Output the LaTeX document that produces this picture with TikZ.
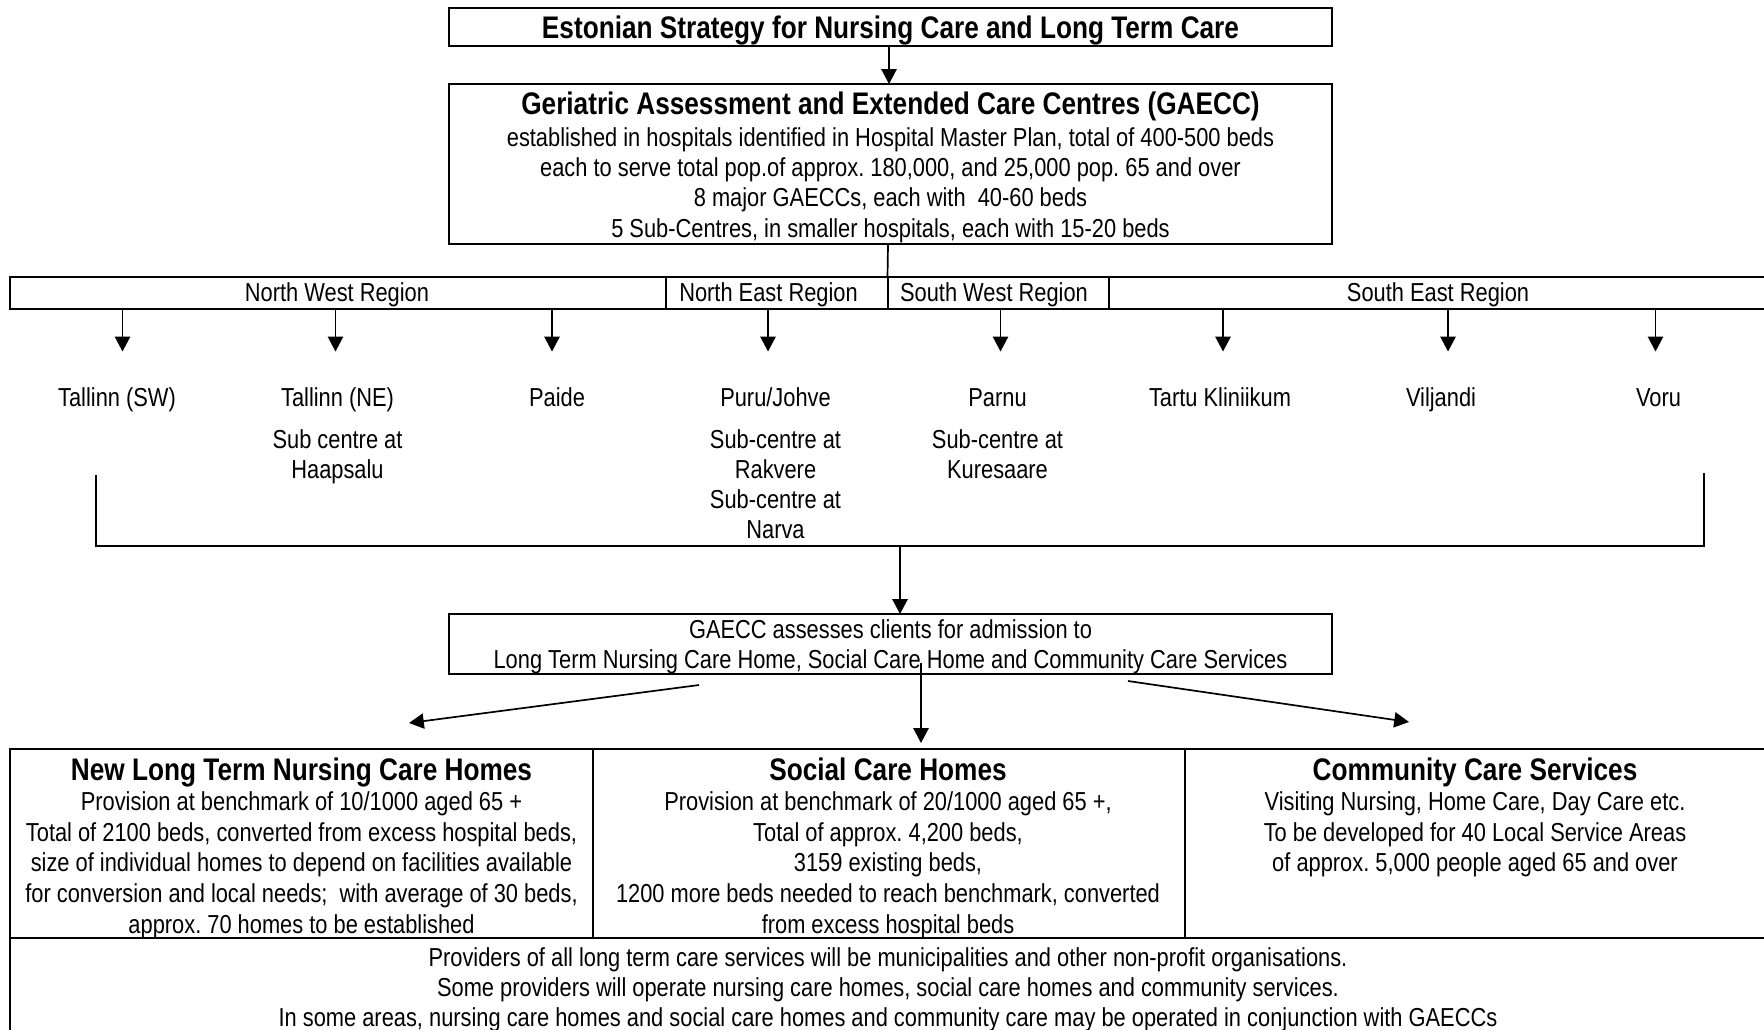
\documentclass[tikz,border=0pt]{standalone}
\usepackage{fontspec}
\setmainfont{Liberation Sans}[FakeStretch=0.84]
\usetikzlibrary{arrows.meta}
\frenchspacing

\begin{document}
\begin{tikzpicture}[x=0.5pt, y=-0.5pt,
  frame/.style={draw, line width=1pt, inner sep=0pt, outer sep=0pt},
  % multi-line texts are placed by the baseline of their last line
  txt/.style={inner sep=0pt, outer sep=0pt, align=center, anchor=base,
              font=\fontsize{13}{15.1}\selectfont},
  tblt/.style={txt, font=\fontsize{13}{15.35}\selectfont},
  head/.style={inner sep=0pt, outer sep=0pt, align=center, anchor=base,
               font=\fontsize{15.6}{18}\selectfont\bfseries},
  conn/.style={line width=0.85pt},
  arr/.style={conn, -{Triangle[width=7.6pt,length=7.4pt]}},
]
\useasboundingbox (0,0) rectangle (1764,1029);
\clip (0,0) rectangle (1764,1029);

% ---------- strategy and GAECC boxes ----------
\node[frame, minimum width=441.5pt, minimum height=19pt] (top) at (890.5,26.7) {};
\node[head] (toptxt) at (890.5,38.2) {Estonian Strategy for Nursing Care and Long Term Care};

\node[frame, minimum width=441.5pt, minimum height=80pt] (gaecc) at (890.5,164) {};
\node[head] (gaecctitle) at (890.5,114.7) {Geriatric Assessment and Extended Care Centres (GAECC)};
\node[txt] (gaecctxt) at (890.5,237) {established in hospitals identified in Hospital Master Plan, total of 400-500 beds\\
each to serve total pop.of approx. 180,000, and 25,000 pop. 65 and over\\
8 major GAECCs, each with\ \ 40-60 beds\\
5 Sub-Centres, in smaller hospitals, each with 15-20 beds};

\coordinate (axis) at (889,0);
\coordinate (axisb) at (888,0);
\draw[arr] (top.south -| axis) -- (gaecc.north -| axis);

% ---------- region bar ----------
\node[frame, minimum width=328pt, minimum height=15.9pt] (nw) at (338,292.8) {};
\node[frame, minimum width=111pt, minimum height=15.9pt] (ne) at (777,292.8) {};
\node[frame, minimum width=110.75pt, minimum height=15.9pt] (sw) at (998.25,292.8) {};
\node[frame, minimum width=345pt, minimum height=15.9pt] (se) at (1454,292.8) {};
\node[txt] (nwl) at (337,301.7) {North West Region};
\node[txt] (nel) at (768.5,301.7) {North East Region};
\node[txt] (swl) at (994,301.7) {South West Region};
\node[txt] (sel) at (1438,301.7) {South East Region};

\draw[conn] (gaecc.south -| axisb) -- (sw.north west);

% ---------- hospitals ----------
\foreach \n/\ax/\tx/\lab in {
  c1/122.5/117/{Tallinn (SW)},
  c2/335.5/337.5/{Tallinn (NE)},
  c3/552/557/{Paide},
  c4/768/775.5/{Puru/Johve},
  c5/1000.5/997.5/{Parnu},
  c6/1223/1220/{Tartu Kliniikum},
  c7/1448/1441/{Viljandi},
  c8/1655.5/1658.5/{Voru}} {
  \coordinate (t\n) at (\ax,351.5);
  \node[txt] (\n) at (\tx,406.8) {\lab};
}
\draw[arr] (tc1 |- nw.south) -- (tc1);
\draw[arr] (tc2 |- nw.south) -- (tc2);
\draw[arr] (tc3 |- nw.south) -- (tc3);
\draw[arr] (tc4 |- ne.south) -- (tc4);
\draw[arr] (tc5 |- sw.south) -- (tc5);
\draw[arr] (tc6 |- se.south) -- (tc6);
\draw[arr] (tc7 |- se.south) -- (tc7);
\draw[arr] (tc8 |- se.south) -- (tc8);

\node[txt] (s2) at (337.5,478.5) {Sub centre at\\Haapsalu};
\node[txt] (s4) at (775.5,538.6) {Sub-centre at\\Rakvere\\Sub-centre at\\Narva};
\node[txt] (s5) at (997.5,478.5) {Sub-centre at\\Kuresaare};

% bracket gathering all centres
\coordinate (bl) at (96,475);
\coordinate (br) at (1704,473);
\coordinate (bjoin) at (900,546);
\draw[conn] (bl) -- (bl |- bjoin) -- (br |- bjoin) -- (br);

% ---------- assessment box ----------
\node[frame, minimum width=441.5pt, minimum height=30pt] (assess) at (890.5,644) {};
\node[txt] (assesstxt) at (890.5,668.4) {GAECC assesses clients for admission to\\
Long Term Nursing Care Home, Social Care Home and Community Care Services};
\draw[arr] (bjoin) -- (assess.north -| bjoin);

% ---------- service table ----------
\node[frame, minimum width=291.5pt, minimum height=94.5pt] (nch) at (301.5,843.5) {};
\node[frame, minimum width=295.75pt, minimum height=94.5pt] (sch) at (888.75,843.5) {};
\node[frame, minimum width=302.75pt, minimum height=94.5pt] (ccs) at (1487.25,843.5) {};
\node[frame, minimum width=890pt, minimum height=61pt] (prov) at (900,999) {};

\node[head] (ncht) at (301.5,780.7) {New Long Term Nursing Care Homes};
\node[tblt] (nchx) at (301.5,933.3) {Provision at benchmark of 10/1000 aged 65 +\\
Total of 2100 beds, converted from excess hospital beds,\\
size of individual homes to depend on facilities available\\
for conversion and local needs;\ \ with average of 30 beds,\\
approx. 70 homes to be established};

\node[head] (scht) at (888,780.7) {Social Care Homes};
\node[tblt] (schx) at (888,933.3) {Provision at benchmark of 20/1000 aged 65 +,\\
Total of approx. 4,200 beds,\\
3159 existing beds,\\
1200 more beds needed to reach benchmark, converted\\
from excess hospital beds};

\node[head] (ccst) at (1475,780.7) {Community Care Services};
\node[tblt] (ccsx) at (1475,871.9) {Visiting Nursing, Home Care, Day Care etc.\\
To be developed for 40 Local Service Areas\\
of approx. 5,000 people aged 65 and over};

\node[txt] (provx) at (888,1026.6) {Providers of all long term care services will be municipalities and other non-profit organisations.\\
Some providers will operate nursing care homes, social care homes and community services.\\
In some areas, nursing care homes and social care homes and community care may be operated in conjunction with GAECCs};

% arrows from the assessment box to the three services
\coordinate (aL) at (699,685);
\coordinate (aLt) at (409,723);
\coordinate (aM) at (921,663);
\coordinate (aR) at (1128,681);
\coordinate (aRt) at (1409,722);
\draw[arr] (aL) -- (aLt);
\draw[arr] (aM) -- (aM |- 0,743);
\draw[arr] (aR) -- (aRt);
\end{tikzpicture}
\end{document}
